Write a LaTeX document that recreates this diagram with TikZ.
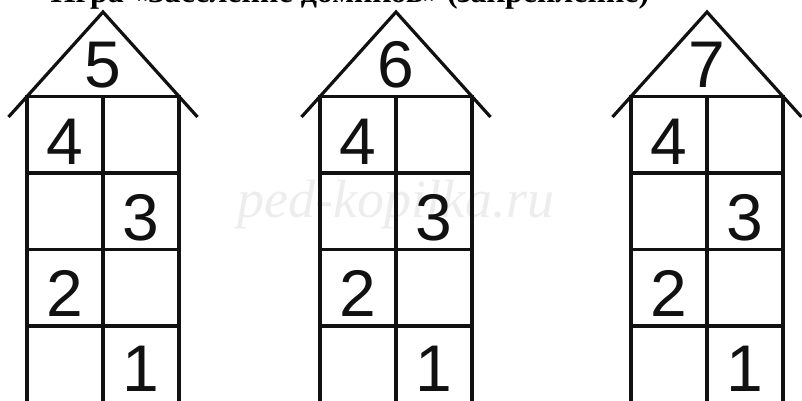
\documentclass[tikz,border=0pt]{standalone}
\usepackage{fontspec}
\setmainfont{Liberation Serif}
\newfontfamily\digitfont{Liberation Sans}
\usetikzlibrary{positioning}
\definecolor{hsline}{HTML}{111111}
\definecolor{wmgray}{HTML}{EDEDED}

\begin{document}
\begin{tikzpicture}[x=1pt,y=-1pt,
 wall/.style={line width=3.2pt,hsline},
 digit/.style={anchor=base,inner sep=0pt,text=hsline,
  font=\digitfont\fontsize{66}{66}\selectfont}]
\useasboundingbox (0,0) rectangle (802,401);
\clip (0,0) rectangle (802,401);
\node[anchor=base,inner sep=0pt,font=\bfseries\fontsize{32}{32}\selectfont]
 (title) at (350,3) {Игра «Заселение домиков» (закрепление)};
\node[inner sep=0pt,text=wmgray,font=\itshape\fontsize{54}{54}\selectfont]
 (mark) at (396,205) {ped-kopilka.ru};
\foreach \cx/\roofnum/\hs in {103/5/a,396/6/b,707/7/c} {
 % roof and walls of one house
 \draw[wall] (\cx-94.5,117) -- (\cx,12) -- (\cx+94.5,117);
 \draw[wall] (\cx-76,401) -- (\cx-76,96.5) -- (\cx+76,96.5) -- (\cx+76,401);
 \draw[wall] (\cx,96.5) -- (\cx,401);
 \foreach \y in {173,249.5,326}
  \draw[wall] (\cx-76,\y) -- (\cx+76,\y);
 \node[digit] (\hs-roof) at (\cx,88) {\roofnum};
 \node[digit] (\hs-four) at (\cx-38,164.5) {4};
 \node[digit] (\hs-three) at (\cx+38,240.5) {3};
 \node[digit] (\hs-two) at (\cx-38,316) {2};
 \node[digit] (\hs-one) at (\cx+38,391) {1};
}
\end{tikzpicture}
\end{document}
